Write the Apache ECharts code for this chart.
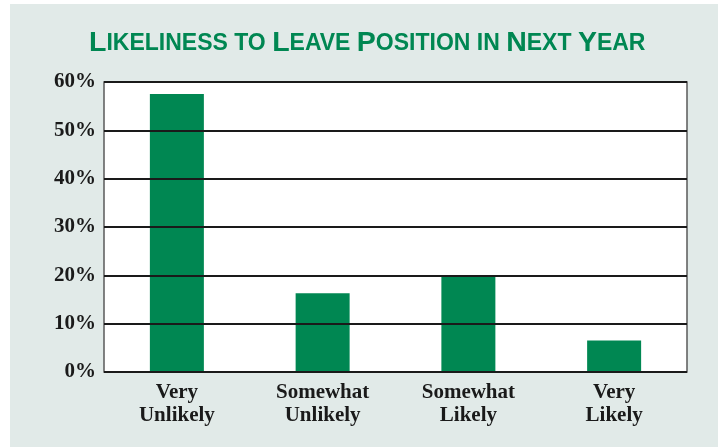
<!DOCTYPE html>
<html><head><meta charset="utf-8">
<script src="https://cdn.jsdelivr.net/npm/echarts@6/dist/echarts.min.js"></script>
<style>html,body{margin:0;padding:0;background:#fff}#c{width:718px;height:447px}</style>
</head><body><div id="c"></div>
<script>
const categories = ['Very\nUnlikely', 'Somewhat\nUnlikely', 'Somewhat\nLikely', 'Very\nLikely'];
const values = [57.5, 16.3, 20.0, 6.5];
const yTicks = [0, 10, 20, 30, 40, 50, 60];
const titleText = 'Likeliness to Leave Position in Next Year';

function smallCaps(str) {
  const parts = [];
  for (const word of str.split(' ')) {
    const first = word[0], rest = word.slice(1);
    if (first !== first.toLowerCase()) {
      parts.push('{B|' + first + '}' + (rest ? '{s|' + rest.toUpperCase() + '}' : ''));
    } else {
      parts.push('{s|' + word.toUpperCase() + '}');
    }
  }
  return parts.join('{s| }');
}

const chart = echarts.init(document.getElementById('c'));
chart.setOption({
  backgroundColor: '#ffffff',
  graphic: [{ type: 'rect', z: -10, shape: { x: 10, y: 4, width: 708, height: 443 }, style: { fill: '#e1eae8' } }],
  title: {
    text: smallCaps(titleText),
    left: 84, top: 24,
    textStyle: {
      rich: {
        B: { fontFamily: 'Liberation Sans', fontWeight: 'bold', fontSize: 28.5, color: '#008752' },
        s: { fontFamily: 'Liberation Sans', fontWeight: 'bold', fontSize: 23, color: '#008752' }
      }
    }
  },
  grid: { left: 104, right: 31, top: 82, bottom: 75, show: true, backgroundColor: '#ffffff', borderColor: '#5a5a5a', borderWidth: 1.5 },
  xAxis: {
    type: 'category', data: categories,
    axisLine: { show: false }, axisTick: { show: false },
    axisLabel: { fontFamily: 'Liberation Serif', fontWeight: 'bold', fontSize: 21, color: '#1a1a1a', lineHeight: 23, margin: 9, interval: 0 }
  },
  yAxis: {
    type: 'value', min: 0, max: 60, interval: 10, z: 10,
    axisLine: { show: false }, axisTick: { show: false },
    axisLabel: { fontFamily: 'Liberation Serif', fontWeight: 'bold', fontSize: 21, color: '#1a1a1a', margin: 8,
      formatter: v => yTicks.includes(v) ? v + '%' : '' },
    splitLine: { lineStyle: { color: '#1a1a1a', width: 2 } }
  },
  series: [{
    type: 'bar', data: values, barWidth: 54,
    itemStyle: { color: '#008752' }
  }]
});
</script></body></html>
